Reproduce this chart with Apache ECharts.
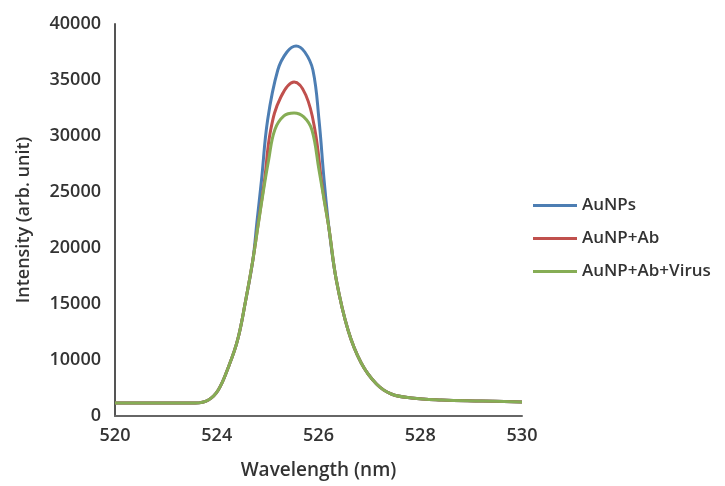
<!DOCTYPE html>
<html>
<head>
<meta charset="utf-8">
<script src="https://cdn.jsdelivr.net/npm/echarts@6/dist/echarts.min.js"></script>
<style>
  html, body { margin: 0; padding: 0; background: #fff; }
  #chart { width: 725px; height: 486px; }
</style>
</head>
<body>
<div id="chart"></div>
<script>
// tick labels as printed on the axes (evenly spaced on the picture)
const xTicks = [520, 524, 526, 528, 530];
const yTicks = [0, 10000, 15000, 20000, 25000, 30000, 35000, 40000];

// flanks shared by all three curves (wavelength nm / intensity)
const leftWl = [520.0, 521.78, 523.16, 523.67, 524.03, 524.23, 524.41, 524.57, 524.71];
const leftInt = [2320, 2320, 2320, 2860, 4640, 8750, 11790, 15360, 18930];
const rightWl = [526.21, 526.35, 526.58, 526.84, 527.14, 527.43, 527.83, 528.42, 529.21, 530.0];
const rightInt = [21610, 17140, 12680, 9460, 5710, 3930, 3210, 2860, 2680, 2500];

// peak part of each curve
const auNPsWl = [524.79, 524.88, 525.00, 525.20, 525.38, 525.56, 525.73, 525.89, 526.01, 526.11];
const auNPsInt = [22320, 26070, 31430, 35890, 37500, 38040, 37500, 35890, 31430, 26070];
const abWl = [524.82, 524.94, 525.06, 525.26, 525.52, 525.75, 525.93, 526.07];
const abInt = [22320, 26070, 30540, 33480, 34820, 33660, 30540, 25630];
const virusWl = [524.82, 524.92, 525.02, 525.14, 525.32, 525.52, 525.71, 525.87, 526.01, 526.11];
const virusInt = [22230, 25180, 27860, 30540, 31790, 32050, 31700, 30540, 26960, 24290];

// position of a value on an axis whose labels are evenly spaced
function toPos(v, ticks) {
  for (let i = 0; i < ticks.length - 1; i++) {
    if (v <= ticks[i + 1]) return i + (v - ticks[i]) / (ticks[i + 1] - ticks[i]);
  }
  return ticks.length - 1;
}

function buildSeries(wl, ints) {
  const xs = leftWl.concat(wl, rightWl);
  const ys = leftInt.concat(ints, rightInt);
  return xs.map((x, i) => [toPos(x, xTicks), toPos(ys[i], yTicks)]);
}

const chart = echarts.init(document.getElementById('chart'));
const font = '"Open Sans", "Noto Sans", sans-serif';

chart.setOption({
  animation: false,
  textStyle: { fontFamily: font },
  grid: { left: 115, right: 203, top: 24, bottom: 70 },
  legend: {
    orient: 'vertical',
    left: 528,
    top: 192,
    icon: 'rect',
    itemWidth: 44,
    itemHeight: 3,
    itemGap: 16,
    textStyle: { fontSize: 17, fontWeight: 600, color: '#333', fontFamily: font },
    data: ['AuNPs', 'AuNP+Ab', 'AuNP+Ab+Virus']
  },
  xAxis: {
    type: 'value',
    min: 0,
    max: 4,
    interval: 1,
    name: 'Wavelength (nm)',
    nameLocation: 'middle',
    nameGap: 45,
    nameTextStyle: { fontSize: 19, fontWeight: 600, color: '#333' },
    axisLine: { lineStyle: { color: '#666', width: 2 } },
    axisTick: { show: false },
    splitLine: { show: false },
    axisLabel: {
      fontSize: 18,
      fontWeight: 600,
      color: '#333',
      margin: 11,
      formatter: v => xTicks[v]
    }
  },
  yAxis: {
    type: 'value',
    min: 0,
    max: 7,
    interval: 1,
    name: 'Intensity (arb. unit)',
    nameLocation: 'middle',
    nameGap: 82,
    nameTextStyle: { fontSize: 18, fontWeight: 600, color: '#333' },
    axisLine: { show: true, lineStyle: { color: '#555', width: 2 } },
    axisTick: { show: false },
    splitLine: { show: false },
    axisLabel: {
      fontSize: 18,
      fontWeight: 600,
      color: '#333',
      margin: 14,
      formatter: v => yTicks[v]
    }
  },
  series: [
    {
      name: 'AuNPs',
      type: 'line',
      smooth: 0.4,
      symbol: 'none',
      color: '#4d7eb3',
      lineStyle: { width: 3 },
      data: buildSeries(auNPsWl, auNPsInt)
    },
    {
      name: 'AuNP+Ab',
      type: 'line',
      smooth: 0.4,
      symbol: 'none',
      color: '#c0504d',
      lineStyle: { width: 3 },
      data: buildSeries(abWl, abInt)
    },
    {
      name: 'AuNP+Ab+Virus',
      type: 'line',
      smooth: 0.4,
      symbol: 'none',
      color: '#86ad55',
      lineStyle: { width: 3 },
      data: buildSeries(virusWl, virusInt)
    }
  ]
});
</script>
</body>
</html>
